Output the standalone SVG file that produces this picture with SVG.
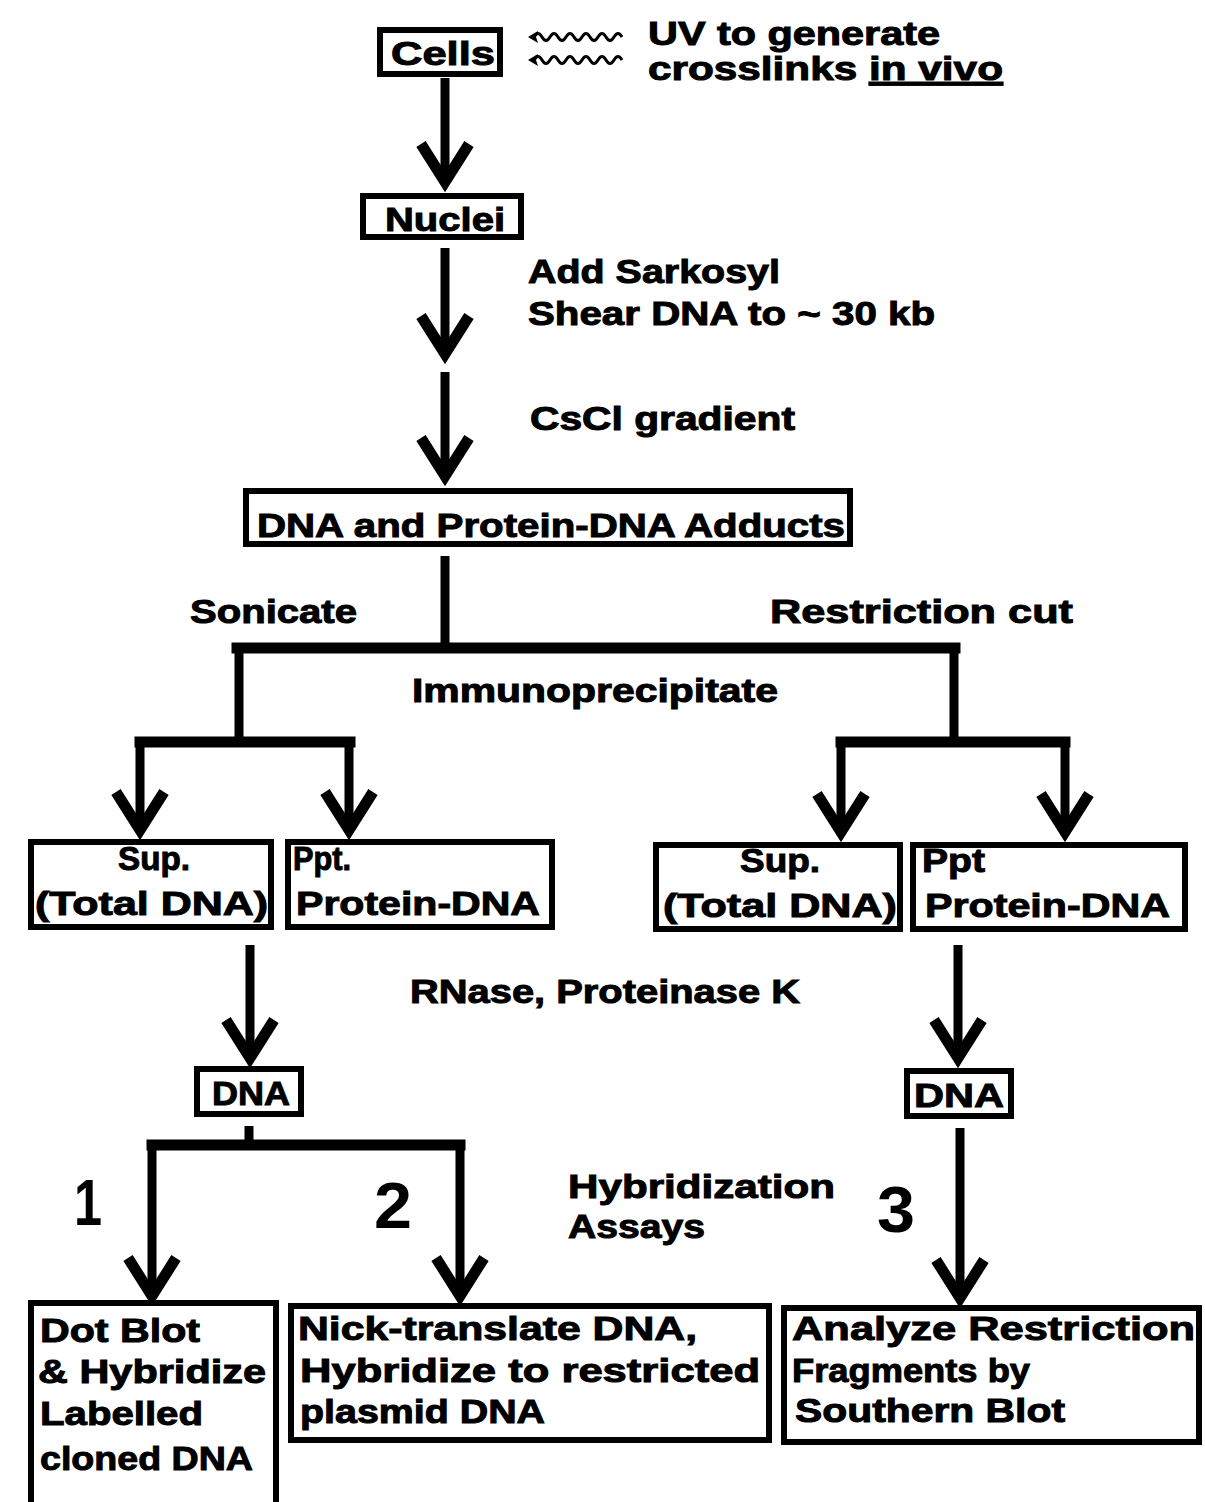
<svg xmlns="http://www.w3.org/2000/svg" xmlns:xlink="http://www.w3.org/1999/xlink" width="1205" height="1502" viewBox="0 0 1205 1502">
<style>
.box{fill:none;stroke:#000;stroke-width:6}
.t{font-family:"Liberation Sans",Arial,sans-serif;font-weight:bold;font-size:34px;fill:#000;stroke:#000;stroke-width:1}
.num{font-family:"Liberation Sans",Arial,sans-serif;font-weight:bold;font-size:64px;fill:#000}
.sh{stroke:#000;stroke-width:9;fill:none}
.bar{stroke:#000;stroke-width:11;fill:none;stroke-linecap:square}
.hd{stroke:#000;stroke-width:11;fill:none;stroke-linejoin:miter;stroke-miterlimit:10}
.wv{stroke:#000;stroke-width:3;fill:none}
</style>
<defs>
<polyline id="head" class="hd" points="-24,-42 0,-4 24,-42"/>
<g id="wave">
<path class="wv" d="M6,0 q4,-7 8,0 t8,0 t8,0 t8,0 t8,0 t8,0 t8,0 t8,0 t8,0 t8,0 t8,0"/>
<path d="M0,0 L10,-6 L8,0 L10,6 Z" fill="#000"/>
</g>
</defs>
<rect width="1205" height="1502" fill="#fff"/>

<g id="connectors">
<line class="sh" x1="445" y1="78" x2="445" y2="180"/>
<use xlink:href="#head" x="445" y="186"/>
<line class="sh" x1="445" y1="248" x2="445" y2="352"/>
<use xlink:href="#head" x="445" y="358"/>
<line class="sh" x1="445" y1="372" x2="445" y2="474"/>
<use xlink:href="#head" x="445" y="480"/>
<line class="sh" x1="445" y1="556" x2="445" y2="648"/>
<line class="bar" x1="237" y1="648" x2="955" y2="648"/>
<line class="sh" x1="239" y1="648" x2="239" y2="742"/>
<line class="sh" x1="954" y1="648" x2="954" y2="742"/>
<line class="bar" x1="140" y1="742" x2="350" y2="742"/>
<line class="sh" x1="140" y1="742" x2="140" y2="828"/>
<use xlink:href="#head" x="140" y="834"/>
<line class="sh" x1="349" y1="742" x2="349" y2="828"/>
<use xlink:href="#head" x="349" y="834"/>
<line class="bar" x1="841" y1="742" x2="1065" y2="742"/>
<line class="sh" x1="841" y1="742" x2="841" y2="830"/>
<use xlink:href="#head" x="841" y="836"/>
<line class="sh" x1="1065" y1="742" x2="1065" y2="830"/>
<use xlink:href="#head" x="1065" y="836"/>
<line class="sh" x1="250" y1="945" x2="250" y2="1056"/>
<use xlink:href="#head" x="250" y="1062"/>
<line class="sh" x1="958" y1="945" x2="958" y2="1056"/>
<use xlink:href="#head" x="958" y="1062"/>
<line class="sh" x1="249" y1="1126" x2="249" y2="1145"/>
<line class="bar" x1="152" y1="1145" x2="460" y2="1145"/>
<line class="sh" x1="152" y1="1145" x2="152" y2="1294"/>
<use xlink:href="#head" x="152" y="1300"/>
<line class="sh" x1="460" y1="1145" x2="460" y2="1294"/>
<use xlink:href="#head" x="460" y="1300"/>
<line class="sh" x1="960" y1="1128" x2="960" y2="1296"/>
<use xlink:href="#head" x="960" y="1302"/>
<use xlink:href="#wave" x="528" y="37"/>
<use xlink:href="#wave" x="528" y="60"/>
</g>

<g id="cells"><rect class="box" x="380" y="30" width="120" height="44"/><text class="t" x="391" y="65" textLength="104" lengthAdjust="spacingAndGlyphs">Cells</text></g>
<g id="uv-label"><text class="t" x="648" y="45" textLength="292" lengthAdjust="spacingAndGlyphs">UV to generate</text>
<text class="t" x="648" y="80" textLength="355" lengthAdjust="spacingAndGlyphs">crosslinks <tspan text-decoration="underline">in vivo</tspan></text></g>
<g id="nuclei"><rect class="box" x="363" y="196" width="158" height="41"/><text class="t" x="385" y="231" textLength="120" lengthAdjust="spacingAndGlyphs">Nuclei</text></g>
<g id="sarkosyl-label"><text class="t" x="528" y="283" textLength="252" lengthAdjust="spacingAndGlyphs">Add Sarkosyl</text>
<text class="t" x="528" y="325" textLength="407" lengthAdjust="spacingAndGlyphs">Shear DNA to ~ 30 kb</text></g>
<g id="cscl-label"><text class="t" x="530" y="430" textLength="265" lengthAdjust="spacingAndGlyphs">CsCl gradient</text></g>
<g id="adducts"><rect class="box" x="246" y="491" width="604" height="53"/><text class="t" x="257" y="537" textLength="588" lengthAdjust="spacingAndGlyphs">DNA and Protein-DNA Adducts</text></g>
<g id="sonicate-label"><text class="t" x="190" y="623" textLength="167" lengthAdjust="spacingAndGlyphs">Sonicate</text></g>
<g id="restriction-label"><text class="t" x="770" y="623" textLength="303" lengthAdjust="spacingAndGlyphs">Restriction cut</text></g>
<g id="ip-label"><text class="t" x="412" y="702" textLength="366" lengthAdjust="spacingAndGlyphs">Immunoprecipitate</text></g>
<g id="sup-left"><rect class="box" x="31" y="842" width="240" height="85"/><text class="t" x="118" y="870" textLength="72" lengthAdjust="spacingAndGlyphs">Sup.</text><text class="t" x="35" y="915" textLength="233" lengthAdjust="spacingAndGlyphs">(Total DNA)</text></g>
<g id="ppt-left"><rect class="box" x="288" y="842" width="264" height="85"/><text class="t" x="293" y="870" textLength="58" lengthAdjust="spacingAndGlyphs">Ppt.</text><text class="t" x="296" y="915" textLength="244" lengthAdjust="spacingAndGlyphs">Protein-DNA</text></g>
<g id="sup-right"><rect class="box" x="656" y="845" width="244" height="84"/><text class="t" x="740" y="872" textLength="80" lengthAdjust="spacingAndGlyphs">Sup.</text><text class="t" x="663" y="917" textLength="234" lengthAdjust="spacingAndGlyphs">(Total DNA)</text></g>
<g id="ppt-right"><rect class="box" x="913" y="845" width="272" height="84"/><text class="t" x="922" y="872" textLength="63" lengthAdjust="spacingAndGlyphs">Ppt</text><text class="t" x="925" y="917" textLength="245" lengthAdjust="spacingAndGlyphs">Protein-DNA</text></g>
<g id="rnase-label"><text class="t" x="410" y="1003" textLength="390" lengthAdjust="spacingAndGlyphs">RNase, Proteinase K</text></g>
<g id="dna-left"><rect class="box" x="197" y="1069" width="104" height="45"/><text class="t" x="212" y="1105" textLength="78" lengthAdjust="spacingAndGlyphs">DNA</text></g>
<g id="dna-right"><rect class="box" x="907" y="1071" width="104" height="45"/><text class="t" x="914" y="1107" textLength="90" lengthAdjust="spacingAndGlyphs">DNA</text></g>
<g id="hyb-label"><text class="t" x="568" y="1198" textLength="267" lengthAdjust="spacingAndGlyphs">Hybridization</text><text class="t" x="568" y="1238" textLength="137" lengthAdjust="spacingAndGlyphs">Assays</text></g>
<g id="num1"><text class="num" x="74" y="1225" textLength="28" lengthAdjust="spacingAndGlyphs">1</text></g>
<g id="num2"><text class="num" x="374" y="1228" textLength="38" lengthAdjust="spacingAndGlyphs">2</text></g>
<g id="num3"><text class="num" x="877" y="1232" textLength="38" lengthAdjust="spacingAndGlyphs">3</text></g>
<g id="assay1"><rect class="box" x="31" y="1303" width="245" height="210"/>
<text class="t" x="40" y="1342" textLength="160" lengthAdjust="spacingAndGlyphs">Dot Blot</text>
<text class="t" x="38" y="1383" textLength="228" lengthAdjust="spacingAndGlyphs">&amp; Hybridize</text>
<text class="t" x="40" y="1425" textLength="163" lengthAdjust="spacingAndGlyphs">Labelled</text>
<text class="t" x="40" y="1470" textLength="213" lengthAdjust="spacingAndGlyphs">cloned DNA</text></g>
<g id="assay2"><rect class="box" x="291" y="1306" width="478" height="134"/>
<text class="t" x="298" y="1340" textLength="399" lengthAdjust="spacingAndGlyphs">Nick-translate DNA,</text>
<text class="t" x="300" y="1382" textLength="460" lengthAdjust="spacingAndGlyphs">Hybridize to restricted</text>
<text class="t" x="300" y="1423" textLength="245" lengthAdjust="spacingAndGlyphs">plasmid DNA</text></g>
<g id="assay3"><rect class="box" x="784" y="1308" width="415" height="134"/>
<text class="t" x="792" y="1340" textLength="403" lengthAdjust="spacingAndGlyphs">Analyze Restriction</text>
<text class="t" x="792" y="1382" textLength="238" lengthAdjust="spacingAndGlyphs">Fragments by</text>
<text class="t" x="795" y="1422" textLength="270" lengthAdjust="spacingAndGlyphs">Southern Blot</text></g>
</svg>
